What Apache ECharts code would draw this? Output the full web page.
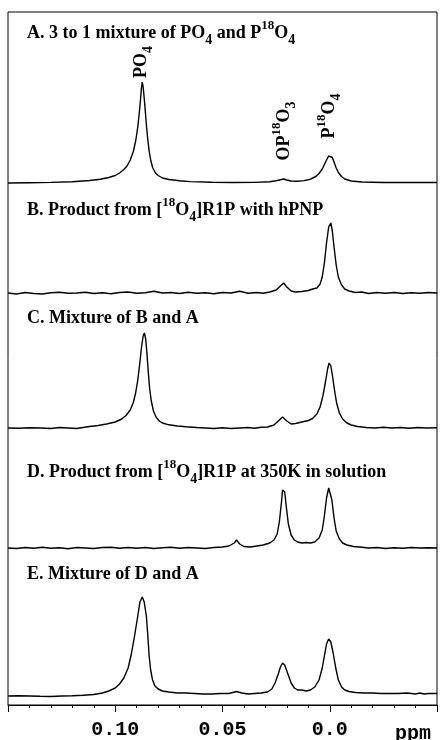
<!DOCTYPE html>
<html>
<head>
<meta charset="utf-8">
<script src="https://cdn.jsdelivr.net/npm/echarts@6/dist/echarts.min.js"></script>
<style>html,body{margin:0;padding:0;background:#fff}#c{width:440px;height:740px}</style>
</head>
<body>
<div id="c"></div>
<script>
// ppm axis ticks
const tickLabels = {"0.1": "0.10", "0.05": "0.05", "0": "0.0"};
const axisUnit = "ppm";

// Spectrum A: 3 to 1 mixture of PO4 and P18O4  [ppm, intensity]
const specA = [[0.150,0],[0.140,0.3],[0.130,0.6],[0.120,1.2],[0.112,2.5],[0.107,3.8],[0.103,5.5],[0.100,7.5],[0.098,10],[0.096,13.5],[0.0945,17],[0.093,23],[0.0915,32],[0.0904,43],[0.0895,56],[0.0888,70],[0.0882,84],[0.0878,95],[0.0874,101],[0.0870,96],[0.0865,85],[0.0860,72],[0.0854,56],[0.0848,43],[0.0842,32],[0.0834,22],[0.0825,15],[0.0812,10],[0.080,7.5],[0.078,5],[0.075,3.5],[0.070,2.2],[0.065,1.4],[0.055,0.7],[0.045,0.5],[0.035,0.6],[0.028,1.2],[0.025,2.2],[0.0225,3.5],[0.0215,4],[0.020,3],[0.018,2],[0.015,1.8],[0.012,2.4],[0.009,3.8],[0.0065,6.5],[0.005,9.5],[0.0035,14],[0.0025,18.5],[0.0015,23],[0.0005,27],[-0.0003,28],[-0.0012,25.5],[-0.002,21],[-0.003,15],[-0.004,10.5],[-0.0055,6.5],[-0.007,4],[-0.010,2],[-0.015,1],[-0.025,0.5],[-0.035,0.5],[-0.045,0.6],[-0.050,0.5]];

// Spectrum B: product from [18O4]R1P with hPNP
const specB = [[0.150,0],[0.146,-1],[0.142,0.5],[0.138,-0.5],[0.134,-1],[0.130,0.3],[0.126,0.8],[0.122,-0.3],[0.118,0],[0.114,0.8],[0.110,-0.5],[0.106,0.3],[0.102,-0.8],[0.098,0.5],[0.094,1],[0.090,-0.3],[0.086,0.3],[0.082,1.8],[0.078,0],[0.074,0.5],[0.070,-0.5],[0.066,0.8],[0.062,-0.3],[0.058,0.2],[0.054,-0.8],[0.050,0.5],[0.046,0],[0.042,1.8],[0.038,-0.3],[0.034,0.5],[0.031,-0.3],[0.028,1],[0.025,3],[0.023,7],[0.0215,10],[0.020,6],[0.018,2],[0.016,1],[0.013,1.5],[0.010,2.5],[0.008,4],[0.006,5],[0.0045,9],[0.0035,16],[0.0025,30],[0.0015,50],[0.0005,66],[-0.0005,70],[-0.0012,62],[-0.002,46],[-0.003,28],[-0.004,16],[-0.0055,8],[-0.007,4],[-0.009,2],[-0.012,0.5],[-0.015,1],[-0.018,-0.5],[-0.022,0.5],[-0.026,-0.3],[-0.030,0.5],[-0.034,-0.5],[-0.038,0.3],[-0.042,-0.3],[-0.046,0.5],[-0.050,0]];

// Spectrum C: mixture of B and A
const specC = [[0.150,0],[0.145,-0.3],[0.140,0.3],[0.135,0],[0.130,-0.5],[0.126,0.5],[0.122,0],[0.118,-0.5],[0.115,0.5],[0.112,1.5],[0.108,2.5],[0.104,4],[0.100,6],[0.097,9],[0.095,12.5],[0.093,18],[0.0915,26],[0.0905,35],[0.0895,48],[0.0886,64],[0.0878,80],[0.0870,92],[0.0864,95],[0.0858,89],[0.0852,74],[0.0846,56],[0.0840,40],[0.0832,27],[0.0822,17],[0.081,11],[0.0795,7],[0.078,5],[0.075,3.2],[0.071,2],[0.067,1.2],[0.062,0.5],[0.058,0],[0.054,-0.5],[0.050,0.3],[0.046,-0.5],[0.042,0],[0.038,0.5],[0.035,-0.3],[0.032,0.8],[0.029,1],[0.026,3],[0.024,7],[0.022,11],[0.020,7],[0.018,4],[0.016,4.5],[0.013,6],[0.010,7.5],[0.008,9.5],[0.006,14],[0.0045,21],[0.0032,32],[0.002,46],[0.001,59],[0.0003,65],[-0.0005,62],[-0.0013,52],[-0.0022,38],[-0.0032,25],[-0.0045,15],[-0.006,9],[-0.008,5],[-0.010,3],[-0.013,1.5],[-0.017,0.5],[-0.021,0],[-0.025,0.8],[-0.029,0],[-0.033,0.5],[-0.037,-0.3],[-0.041,0.5],[-0.045,0],[-0.050,0.3]];

// Spectrum D: product from [18O4]R1P at 350K in solution
const specD = [[0.150,0],[0.146,-0.5],[0.142,0.5],[0.138,-0.3],[0.134,0.8],[0.130,-0.3],[0.126,0.3],[0.122,-0.8],[0.118,0.5],[0.114,0],[0.110,-0.5],[0.106,0.5],[0.102,0.8],[0.098,-0.3],[0.094,0.5],[0.090,-0.3],[0.086,0.5],[0.082,-0.5],[0.078,0.3],[0.074,0.8],[0.070,-0.3],[0.066,0.5],[0.062,0],[0.058,-0.5],[0.054,0.5],[0.050,1],[0.047,2],[0.0445,5],[0.0435,8],[0.042,4],[0.040,1.5],[0.037,1],[0.034,2],[0.031,3],[0.028,5],[0.026,8],[0.0245,14],[0.0235,26],[0.0225,46],[0.022,58],[0.0215,60],[0.021,56],[0.0203,42],[0.0193,24],[0.018,13],[0.0165,8],[0.015,6],[0.013,5],[0.011,5.5],[0.009,5],[0.007,6],[0.005,10],[0.0035,18],[0.0025,32],[0.0015,50],[0.0005,60],[-0.0003,58],[-0.001,48],[-0.002,30],[-0.003,17],[-0.0045,9],[-0.006,5],[-0.008,3],[-0.011,1.5],[-0.014,1],[-0.018,0],[-0.022,0.5],[-0.026,-0.5],[-0.030,0.3],[-0.034,-0.3],[-0.038,0.5],[-0.042,0],[-0.046,0.3],[-0.050,0]];

// Spectrum E: mixture of D and A
const specE = [[0.150,0],[0.145,0.3],[0.140,0],[0.135,-0.3],[0.130,-0.5],[0.125,0],[0.120,0.3],[0.115,0.8],[0.110,1.5],[0.106,3],[0.103,5],[0.100,8],[0.098,12],[0.096,18],[0.094,28],[0.0925,42],[0.091,60],[0.0895,80],[0.0885,94],[0.0874,99],[0.0865,94],[0.0855,80],[0.0848,60],[0.0842,40],[0.0835,26],[0.0826,16],[0.0815,10],[0.080,7],[0.078,5],[0.075,4],[0.071,3],[0.067,3],[0.063,2.5],[0.059,2],[0.055,2],[0.051,2.5],[0.047,2.5],[0.0435,4.5],[0.041,3],[0.038,2],[0.035,2.5],[0.032,3],[0.029,4],[0.027,7],[0.0255,13],[0.024,22],[0.023,29],[0.022,33],[0.021,31],[0.0195,22],[0.018,13],[0.0165,8],[0.015,6],[0.013,6],[0.011,5],[0.009,6],[0.007,9],[0.005,16],[0.0035,28],[0.0025,40],[0.0015,52],[0.0005,57],[-0.0005,54],[-0.0015,44],[-0.0028,28],[-0.004,16],[-0.0055,9],[-0.007,6],[-0.009,4.5],[-0.012,3.5],[-0.016,3],[-0.020,3],[-0.024,2.5],[-0.028,2.5],[-0.032,2.5],[-0.036,3],[-0.040,2],[-0.042,3],[-0.044,2],[-0.046,2.5],[-0.050,2.5]];

const spectra = [specA, specB, specC, specD, specE];

// Panel titles (rich text)
const titles = [
  "{m|A. 3 to 1 mixture of PO}{sub|4}{m| and P}{sup|18}{m|O}{sub|4}",
  "{m|B. Product from [}{sup|18}{m|O}{sub|4}{m|]R1P with hPNP}",
  "{m|C. Mixture of B and A}",
  "{m|D. Product from [}{sup|18}{m|O}{sub|4}{m|]R1P at 350K in solution}",
  "{m|E. Mixture of D and A}"
];
// Peak labels in panel A
const peakLabels = [
  "{m|PO}{sub|4}",
  "{m|OP}{sup|18}{m|O}{sub|3}",
  "{m|P}{sup|18}{m|O}{sub|4}"
];

// ---------- layout ----------
const L = 8, R = 3, TOP = 12, AXIS_Y = 709;
const baselines = [183, 293, 428, 548, 696];
const titleTops = [19.5, 196, 304, 458, 560.5];
const peakLabelPos = [[141, 62], [284, 131], [329, 116]];
const YMIN = -8, YMAX = 120;

const serif = '"Liberation Serif","Times New Roman",serif';
const rich = {
  m: {fontFamily: serif, fontWeight: 'bold', fontSize: 18, lineHeight: 28, fill: '#000'},
  sub: {fontFamily: serif, fontWeight: 'bold', fontSize: 14, lineHeight: 12, verticalAlign: 'bottom', fill: '#000'},
  sup: {fontFamily: serif, fontWeight: 'bold', fontSize: 13, lineHeight: 22, verticalAlign: 'top', fill: '#000'}
};

const grids = [], xAxes = [], yAxes = [], series = [];
spectra.forEach((s, i) => {
  const b = baselines[i];
  grids.push({left: L, right: R, top: b - YMAX, height: YMAX - YMIN, containLabel: false});
  xAxes.push({type: 'value', gridIndex: i, min: -0.05, max: 0.15, inverse: true, show: false});
  yAxes.push({type: 'value', gridIndex: i, min: YMIN, max: YMAX, show: false});
  series.push({type: 'line', xAxisIndex: i, yAxisIndex: i, data: s, showSymbol: false, symbol: 'none',
    lineStyle: {color: '#000', width: 1.4}, clip: false, animation: false});
});
// frame + visible axis
grids.push({left: L, right: R, top: TOP, bottom: 740 - AXIS_Y, show: true, borderColor: '#000', borderWidth: 1, backgroundColor: 'transparent'});
xAxes.push({type: 'value', gridIndex: 5, min: -0.05, max: 0.15, interval: 0.05, inverse: true,
  axisLine: {show: true, lineStyle: {color: '#000', width: 1}},
  axisTick: {show: true, length: 7, lineStyle: {color: '#000'}},
  minorTick: {show: true, splitNumber: 5, length: 3, lineStyle: {color: '#000'}},
  splitLine: {show: false}, minorSplitLine: {show: false},
  axisLabel: {margin: 15, color: '#000', fontFamily: '"Liberation Mono","DejaVu Sans Mono",monospace', fontWeight: 'bold', fontSize: 20,
    formatter: v => { const k = String(Math.round(v * 100) / 100); return tickLabels[k] !== undefined ? tickLabels[k] : ''; }}
});
yAxes.push({type: 'value', gridIndex: 5, show: false, min: 0, max: 1});

const graphic = [];
titles.forEach((t, i) => {
  graphic.push({type: 'text', x: 27, y: titleTops[i], silent: true,
    style: {text: t, rich: rich, align: 'left', verticalAlign: 'top'}});
});
peakLabels.forEach((t, i) => {
  graphic.push({type: 'text', x: peakLabelPos[i][0], y: peakLabelPos[i][1], rotation: Math.PI / 2, silent: true,
    style: {text: t, rich: rich, align: 'center', verticalAlign: 'middle'}});
});
graphic.push({type: 'text', x: 413, y: AXIS_Y + 15, silent: true,
  style: {text: axisUnit, fill: '#000', font: 'bold 20px "Liberation Mono","DejaVu Sans Mono",monospace', align: 'center', verticalAlign: 'top'}});

const chart = echarts.init(document.getElementById('c'), null, {renderer: 'canvas'});
chart.setOption({animation: false, backgroundColor: '#fff', grid: grids, xAxis: xAxes, yAxis: yAxes, series: series, graphic: graphic});
</script>
</body>
</html>
